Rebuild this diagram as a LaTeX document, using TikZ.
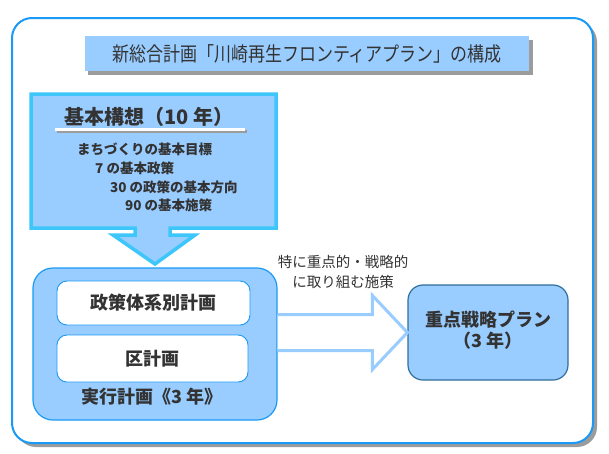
\documentclass[tikz,border=0pt]{standalone}
\usepackage{fontspec}
\setmainfont{Noto Sans CJK JP}
\usepackage{graphicx}
\usepackage{tikz}
\usetikzlibrary{calc}
\definecolor{waku}{HTML}{1A9AF5}
\definecolor{kage}{HTML}{9C9C9C}
\definecolor{usuao}{HTML}{99CCFF}
\definecolor{mizu}{HTML}{3CC6FA}
\definecolor{koiao}{HTML}{2F6E9E}
\definecolor{moji}{HTML}{333333}

\begin{document}
\begin{tikzpicture}[x=1pt,y=-1pt,
  box/.style={draw=waku,line width=1.2pt,fill=usuao,rounded corners=20pt,inner sep=0pt},
  whitebox/.style={draw=waku,line width=0.9pt,fill=white,rounded corners=10pt,inner sep=0pt},
  bigtxt/.style={text=moji,font=\fontsize{18}{21}\selectfont\bfseries,inner sep=0pt},
  smalltxt/.style={text=moji,font=\fontsize{13.5}{16}\selectfont\bfseries,inner sep=0pt,anchor=west},
  bigarrow/.style={draw=usuao,line width=3pt,fill=white,line join=miter}]
  \useasboundingbox (0,0) rectangle (609,453); % 画像全体の大きさ
  \fill[kage,rounded corners=20pt] (16,22) rectangle (597,447); % 外枠の影
  \draw[waku,line width=2pt,fill=white,rounded corners=20pt] (12,18) rectangle (593,443); % 外枠
  \fill[kage] (88,40) rectangle (533,75); % タイトルの影
  \node[fill=usuao,minimum width=444pt,minimum height=35pt,inner sep=0pt] (title) at (307,53.5)
    {\textcolor{moji}{\scalebox{0.85}[1]{\fontsize{20}{24}\selectfont 新総合計画「川崎再生フロンティアプラン」の構成}}}; % タイトル
  \draw[mizu,line width=3.5pt,fill=usuao,line join=miter] (31,94) -- (276,94) -- (276,228) -- (170,228) -- (170,235)
    -- (195,235) -- (155,264) -- (113,235) -- (135,235) -- (135,228) -- (31,228) -- cycle; % 基本構想の枠と下向き矢印
  \node[bigtxt,font=\fontsize{20}{24}\selectfont\bfseries] (kousou) at (149,117) {基本構想（10 年）}; % 基本構想
  \fill[kage] (57,130) rectangle (247,133); % 下線の影
  \fill[white] (55,128) rectangle (245,131); % 下線
  \node[smalltxt] (k1) at (77,149) {まちづくりの基本目標};
  \node[smalltxt] (k2) at (95,168) {7 の基本政策};
  \node[smalltxt] (k3) at (110,187) {30 の政策の基本方向};
  \node[smalltxt] (k4) at (125,205) {90 の基本施策};
  \node[box,minimum width=244pt,minimum height=152pt] (jikko) at (155,344) {}; % 実行計画の枠
  \node[whitebox,minimum width=193pt,minimum height=44pt] (seisaku) at (153.5,303) {}; % 政策体系別計画
  \node[bigtxt] at (seisaku) {政策体系別計画};
  \node[whitebox,minimum width=191pt,minimum height=47pt] (ku) at (152.5,358.5) {}; % 区計画
  \node[bigtxt] at (ku) {区計画};
  \node[bigtxt] (jikkotxt) at (152,397) {実行計画《3 年》};
  \node[box,draw=koiao,rounded corners=15pt,minimum width=160pt,minimum height=95pt] (juten) at (488,332.5) {}; % 重点戦略プラン
  \node[bigtxt,align=center,font=\fontsize{18}{21}\selectfont\bfseries] (jutentxt) at (488,330) {重点戦略プラン\\（3 年）};
  \coordinate (tip) at (juten.west);
  \draw[bigarrow] ($(jikko.east|-tip)+(0,-18)$) -- ($(tip)+(-35,-18)$) -- ($(tip)+(-35,-37)$) -- (tip)
    -- ($(tip)+(-35,37)$) -- ($(tip)+(-35,18)$) -- ($(jikko.east|-tip)+(0,18)$); % 横向きの白い矢印
  \node[text=moji,font=\fontsize{14.5}{20}\selectfont,align=center,inner sep=0pt] (tokuni) at (343,272)
    {特に重点的・戦略的\\に取り組む施策}; % 矢印の上の説明
\end{tikzpicture}
\end{document}
